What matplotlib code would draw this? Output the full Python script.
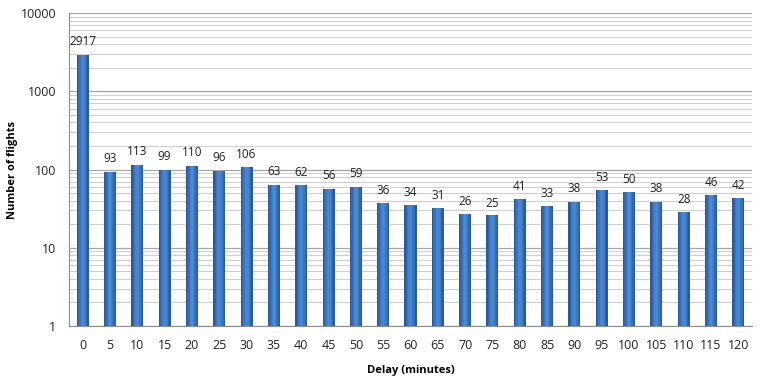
import matplotlib.pyplot as plt
import matplotlib.ticker as ticker
import numpy as np

delays = [0, 5, 10, 15, 20, 25, 30, 35, 40, 45, 50, 55, 60, 65, 70, 75, 80, 85, 90, 95, 100, 105, 110, 115, 120]
flights = [2917, 93, 113, 99, 110, 96, 106, 63, 62, 56, 59, 36, 34, 31, 26, 25, 41, 33, 38, 53, 50, 38, 28, 46, 42]

plt.rcParams['font.family'] = ['Open Sans', 'DejaVu Sans']

fig = plt.figure(figsize=(7.63, 3.87), dpi=100)
ax = fig.add_axes([0.0904, 0.1576, 0.8952, 0.8088])

x = np.arange(len(delays))
width = 0.44

# fake the shaded cylinder look with thin strips of varying blue
n_strips = 9
shades = ['#2a5a97', '#3468ad', '#3c76c0', '#4583cf', '#4a8ad6', '#4583cf', '#3c76c0', '#3468ad', '#2a5a97']
strip_w = width / n_strips
for i in range(n_strips):
    off = -width / 2 + strip_w * (i + 0.5)
    ax.bar(x + off, flights, width=strip_w, bottom=1, color=shades[i], linewidth=0, zorder=3)

for xi, v in zip(x, flights):
    ax.annotate(str(v), (xi, v), xytext=(0, 5), textcoords='offset points',
                ha='center', va='bottom', fontsize=8.5, color='#222222', zorder=4)

ax.set_yscale('log')
ax.set_ylim(1, 10000)
ax.set_xlim(-0.5, len(delays) - 0.5)
ax.yaxis.set_major_locator(ticker.LogLocator(base=10))
ax.yaxis.set_major_formatter(ticker.FuncFormatter(lambda v, p: '%d' % v))
ax.yaxis.set_minor_locator(ticker.LogLocator(base=10, subs=np.arange(2, 10)))
ax.yaxis.set_minor_formatter(ticker.NullFormatter())
ax.grid(axis='y', which='major', color='#a6a6a6', linewidth=0.9, zorder=0)
ax.grid(axis='y', which='minor', color='#cfcfcf', linewidth=0.8, zorder=0)

ax.set_xticks(x)
ax.set_xticklabels([str(d) for d in delays])
ax.tick_params(axis='both', which='both', length=0, labelsize=9, colors='#222222')
ax.tick_params(axis='x', pad=9)
ax.tick_params(axis='y', pad=9)

for s in ['top', 'right']:
    ax.spines[s].set_visible(False)
for s in ['left', 'bottom']:
    ax.spines[s].set_color('#8c8c8c')

ax.set_xlabel('Delay (minutes)', fontsize=8, fontweight='bold', labelpad=10)
ax.set_ylabel('Number of flights', fontsize=8, fontweight='bold')
ax.yaxis.set_label_coords(-0.075, 0.5)

fig.savefig('out.png', dpi=100)
